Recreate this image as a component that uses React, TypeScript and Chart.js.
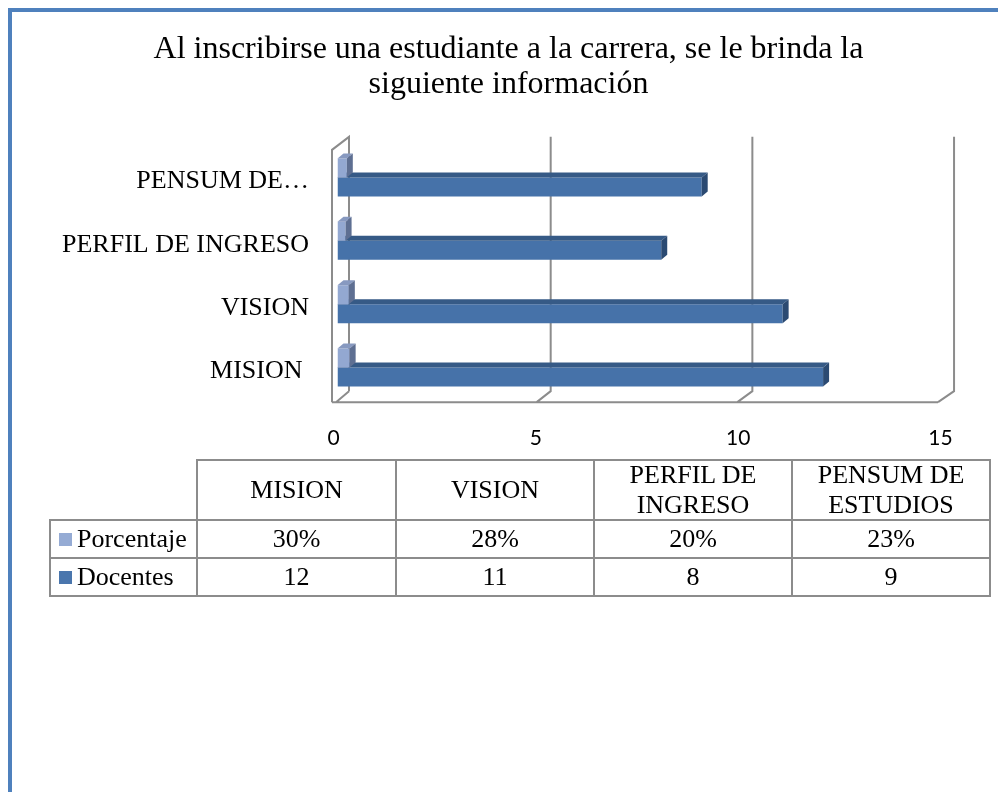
import React, { useEffect, useRef } from "react";
import { Chart, registerables } from "chart.js";

Chart.register(...registerables);

// ---- data ----
const categories = ["MISION", "VISION", "PERFIL DE INGRESO", "PENSUM DE ESTUDIOS"];
const axisLabels = ["MISION ", "VISION", "PERFIL DE INGRESO", "PENSUM DE…"];
const headerLabels = [["MISION"], ["VISION"], ["PERFIL DE", "INGRESO"], ["PENSUM DE", "ESTUDIOS"]];
const seriesNames = ["Porcentaje", "Docentes"];
const porcentaje = [0.3, 0.28, 0.2, 0.23];
const docentes = [12, 11, 8, 9];
const xTicks = [0, 5, 10, 15];
const titleLines = [
  "Al inscribirse una estudiante a la carrera, se le brinda la",
  "siguiente información",
];

// ---- styles ----
const FRONT = ["#93a8d1", "#4672a9"];
const TOPF = ["#8799c0", "#365a86"];
const SIDE = ["#5e6f92", "#2b4a72"];
const LEGEND = ["#95abd4", "#4a76ad"];
const WALL = "#8c8c8c";
const SERIF = "'Liberation Serif', 'Times New Roman', serif";
const DX = 6;
const DY = 5;
const CANVAS_LEFT = 42;
const TITLE_CENTER = 508.5; // page x

const walls = {
  id: "walls3d",
  beforeDatasetsDraw(chart: any) {
    const ctx = chart.ctx;
    const xs = chart.scales.x;
    const a = chart.chartArea;
    const X = (v: number) => xs.getPixelForValue(v);
    const front = (v: number) => X(v) - 1.5 - v * 0.33;
    const back = (v: number) => X(v) + 11.5 - v * 0.13;
    const fy = a.bottom + 3;
    const by = a.bottom - 8;
    const ty = a.top - 9;
    const wx = front(0) - 4;
    ctx.save();
    ctx.strokeStyle = WALL;
    ctx.lineWidth = 2;
    ctx.beginPath();
    ctx.moveTo(wx, fy);
    ctx.lineTo(wx, a.top + 4);
    ctx.lineTo(back(0), ty);
    ctx.lineTo(back(0), by);
    ctx.moveTo(wx, fy);
    ctx.lineTo(front(15), fy);
    for (const v of xTicks) {
      ctx.moveTo(front(v), fy);
      ctx.lineTo(back(v), by);
      if (v > 0) {
        ctx.lineTo(back(v), ty);
      }
    }
    ctx.stroke();
    ctx.restore();
  },
};

const faces = {
  id: "faces3d",
  afterDatasetDraw(chart: any, args: any) {
    const ctx = chart.ctx;
    const i = args.index;
    args.meta.data.forEach((bar: any) => {
      const p = bar.getProps(["x", "y", "base", "height"], true);
      const top = p.y - p.height / 2;
      const bottom = p.y + p.height / 2;
      const l = Math.min(p.base, p.x);
      const r = Math.max(p.base, p.x);
      ctx.save();
      ctx.fillStyle = TOPF[i];
      ctx.beginPath();
      ctx.moveTo(l, top);
      ctx.lineTo(l + DX, top - DY);
      ctx.lineTo(r + DX, top - DY);
      ctx.lineTo(r, top);
      ctx.closePath();
      ctx.fill();
      ctx.fillStyle = SIDE[i];
      ctx.beginPath();
      ctx.moveTo(r, top);
      ctx.lineTo(r + DX, top - DY);
      ctx.lineTo(r + DX, bottom - DY);
      ctx.lineTo(r, bottom);
      ctx.closePath();
      ctx.fill();
      ctx.restore();
    });
  },
};

// centre the title on the page position of the original
const titleShift = {
  id: "titleShift",
  afterLayout(chart: any) {
    const t = chart.titleBlock;
    if (!t) return;
    const c = TITLE_CENTER - CANVAS_LEFT;
    t.left = c - 450;
    t.right = c + 450;
  },
};

function abs(x: number, y: number, w: number, h: number): React.CSSProperties {
  return { position: "absolute", left: x, top: y, width: w, height: h };
}

const colX = [50, 197, 396, 594, 792, 990];
const rowY = [460, 520, 558, 596];
const LINE = "#8c8c8c";

function DataTable() {
  const els: React.ReactNode[] = [];
  els.push(<div key="h0" style={{ ...abs(colX[1] - 1, rowY[0] - 1, colX[5] - colX[1] + 2, 2), background: LINE }} />);
  for (let r = 1; r < rowY.length; r++) {
    els.push(<div key={"h" + r} style={{ ...abs(colX[0] - 1, rowY[r] - 1, colX[5] - colX[0] + 2, 2), background: LINE }} />);
  }
  els.push(<div key="v0" style={{ ...abs(colX[0] - 1, rowY[1] - 1, 2, rowY[3] - rowY[1] + 2), background: LINE }} />);
  for (let c = 1; c < colX.length; c++) {
    els.push(<div key={"v" + c} style={{ ...abs(colX[c] - 1, rowY[0] - 1, 2, rowY[3] - rowY[0] + 2), background: LINE }} />);
  }
  const cellStyle: React.CSSProperties = {
    display: "flex",
    flexDirection: "column",
    alignItems: "center",
    justifyContent: "center",
    fontFamily: SERIF,
    fontSize: 26,
    lineHeight: "30px",
    color: "#000",
    textAlign: "center",
  };
  headerLabels.forEach((lines, c) => {
    els.push(
      <div key={"hd" + c} style={{ ...abs(colX[c + 1], rowY[0], colX[c + 2] - colX[c + 1], rowY[1] - rowY[0]), ...cellStyle }}>
        {lines.map((t, k) => (
          <span key={k}>{t}</span>
        ))}
      </div>
    );
  });
  const rows = [
    porcentaje.map((v) => Math.round(v * 100) + "%"),
    docentes.map((v) => String(v)),
  ];
  rows.forEach((vals, r) => {
    const y0 = rowY[r + 1];
    const h = rowY[r + 2] - y0;
    els.push(
      <div key={"lg" + r} style={{ ...abs(colX[0], y0, colX[1] - colX[0], h), display: "flex", alignItems: "center" }}>
        <div style={{ width: 13, height: 13, background: LEGEND[r], marginLeft: 9, marginRight: 5 }} />
        <span style={{ fontFamily: SERIF, fontSize: 26, lineHeight: "30px", color: "#000" }}>{seriesNames[r]}</span>
      </div>
    );
    vals.forEach((t, c) => {
      els.push(
        <div key={"c" + r + "_" + c} style={{ ...abs(colX[c + 1], y0, colX[c + 2] - colX[c + 1], h), ...cellStyle }}>
          {t}
        </div>
      );
    });
  });
  return <>{els}</>;
}

export default function App() {
  const ref = useRef<HTMLCanvasElement | null>(null);
  useEffect(() => {
    if (!ref.current) return;
    const chart = new Chart(ref.current, {
      type: "bar",
      data: {
        labels: categories,
        datasets: [
          { label: seriesNames[0], data: porcentaje, backgroundColor: FRONT[0], borderWidth: 0 },
          { label: seriesNames[1], data: docentes, backgroundColor: FRONT[1], borderWidth: 0 },
        ],
      },
      plugins: [walls, faces, titleShift],
      options: {
        indexAxis: "y",
        responsive: false,
        animation: false,
        devicePixelRatio: 1,
        datasets: { bar: { categoryPercentage: 0.6, barPercentage: 1 } },
        layout: { padding: { left: 0, right: 53.5, top: 0, bottom: 0 } },
        plugins: {
          legend: { display: false },
          tooltip: { enabled: false },
          title: {
            display: true,
            text: titleLines,
            color: "#000",
            font: { family: SERIF, size: 32, weight: "normal", lineHeight: 1.09375 },
            padding: { top: 24.5, bottom: 43.35 },
          },
        },
        scales: {
          x: {
            type: "linear",
            min: 0,
            max: 15,
            grid: { display: false, drawTicks: false },
            border: { display: false },
            ticks: {
              stepSize: 5,
              color: "#000",
              font: { family: "Lato, 'Open Sans', sans-serif", size: 21 },
              padding: 26,
              labelOffset: -4,
            },
            afterFit: (s: any) => {
              s.height = 58.85;
              s.paddingLeft = 0;
              s.paddingRight = 0;
            },
          },
          y: {
            type: "category",
            reverse: true,
            offset: true,
            grid: { display: false, drawTicks: false },
            border: { display: false },
            ticks: {
              color: "#000",
              font: { family: SERIF, size: 26 },
              padding: 28.5,
              labelOffset: 4,
              autoSkip: false,
              callback: (_v: any, i: number) => axisLabels[i],
            },
            afterFit: (s: any) => {
              s.width = 295.5;
              s.paddingTop = 0;
              s.paddingBottom = 0;
            },
          },
        },
      } as any,
    });
    return () => chart.destroy();
  }, []);

  return (
    <>
      <div
        style={{
          position: "fixed",
          left: 8,
          top: 8,
          width: 990,
          height: 784,
          borderLeft: "4px solid #4f81bd",
          borderTop: "4px solid #4f81bd",
          boxSizing: "border-box",
        }}
      />
      <canvas
        ref={ref}
        width={956}
        height={450}
        style={{ position: "absolute", left: CANVAS_LEFT, top: 8, width: 956, height: 450 }}
      />
      <DataTable />
    </>
  );
}
